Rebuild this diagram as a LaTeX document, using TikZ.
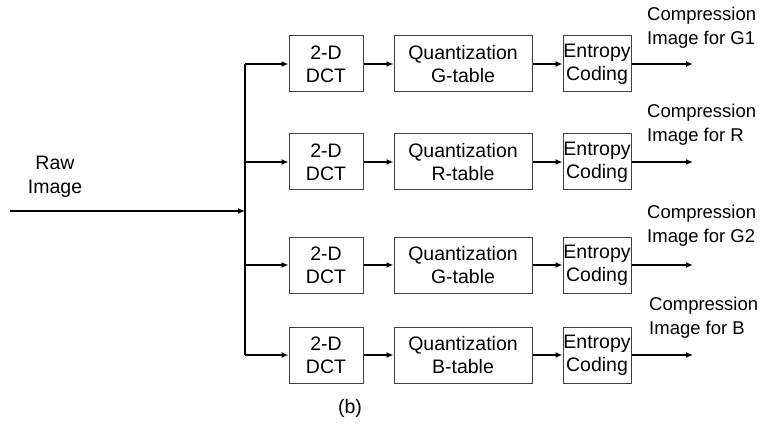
\documentclass[tikz,border=0pt]{standalone}
\usepackage{fontspec}
\setmainfont{Liberation Sans}
\usetikzlibrary{arrows.meta}
\begin{document}
\begin{tikzpicture}[x=1pt,y=-1pt,
  box/.style={draw=black!75,line width=1pt,inner sep=0pt,minimum height=56pt,align=center,
    font=\fontsize{19.5}{23}\selectfont},
  dctbox/.style={box,minimum width=74pt},
  qbox/.style={box,minimum width=138pt},
  ebox/.style={box,minimum width=68pt},
  conn/.style={line width=1.8pt,-{Latex[length=7pt,width=6pt]}},
  lbl/.style={align=left,inner sep=0pt,font=\fontsize{18.5}{24}\selectfont},
]
\useasboundingbox (0,0) rectangle (762,446);
% rows
\foreach \r/\y/\t in {1/64/G,2/162/R,3/265/G,4/355/B}{
  \node[dctbox] (d\r) at (326,\y) {2-D\\DCT};
  \node[qbox] (q\r) at (463,\y) {Quantization\\\t-table};
  \node[ebox] (e\r) at (597,\y) {Entropy\\Coding};
  \coordinate (b\r) at (245,\y);
  \coordinate (o\r) at (693,\y);
  \draw[conn] (b\r) -- (d\r);
  \draw[conn] (d\r) -- (q\r);
  \draw[conn] (q\r) -- (e\r);
  \draw[conn] (e\r) -- (o\r);
}
\node[lbl,anchor=west] (l1) at (647,28) {Compression\\Image for G1};
\node[lbl,anchor=west] (l2) at (647,125) {Compression\\Image for R};
\node[lbl,anchor=west] (l3) at (647,226) {Compression\\Image for G2};
\node[lbl,anchor=west] (l4) at (649,318) {Compression\\Image for B};
% trunk
\draw[line width=1.8pt] (b1) -- (b4);
\coordinate (rs) at (10,211);
\coordinate (rj) at (245,211);
\draw[conn] (rs) -- (rj);
\node[lbl,align=center,font=\fontsize{19.5}{24}\selectfont] (raw) at (55,177) {Raw\\Image};
\node[lbl,font=\fontsize{19.5}{24}\selectfont] (cap) at (350,408) {(b)};
\end{tikzpicture}
\end{document}
